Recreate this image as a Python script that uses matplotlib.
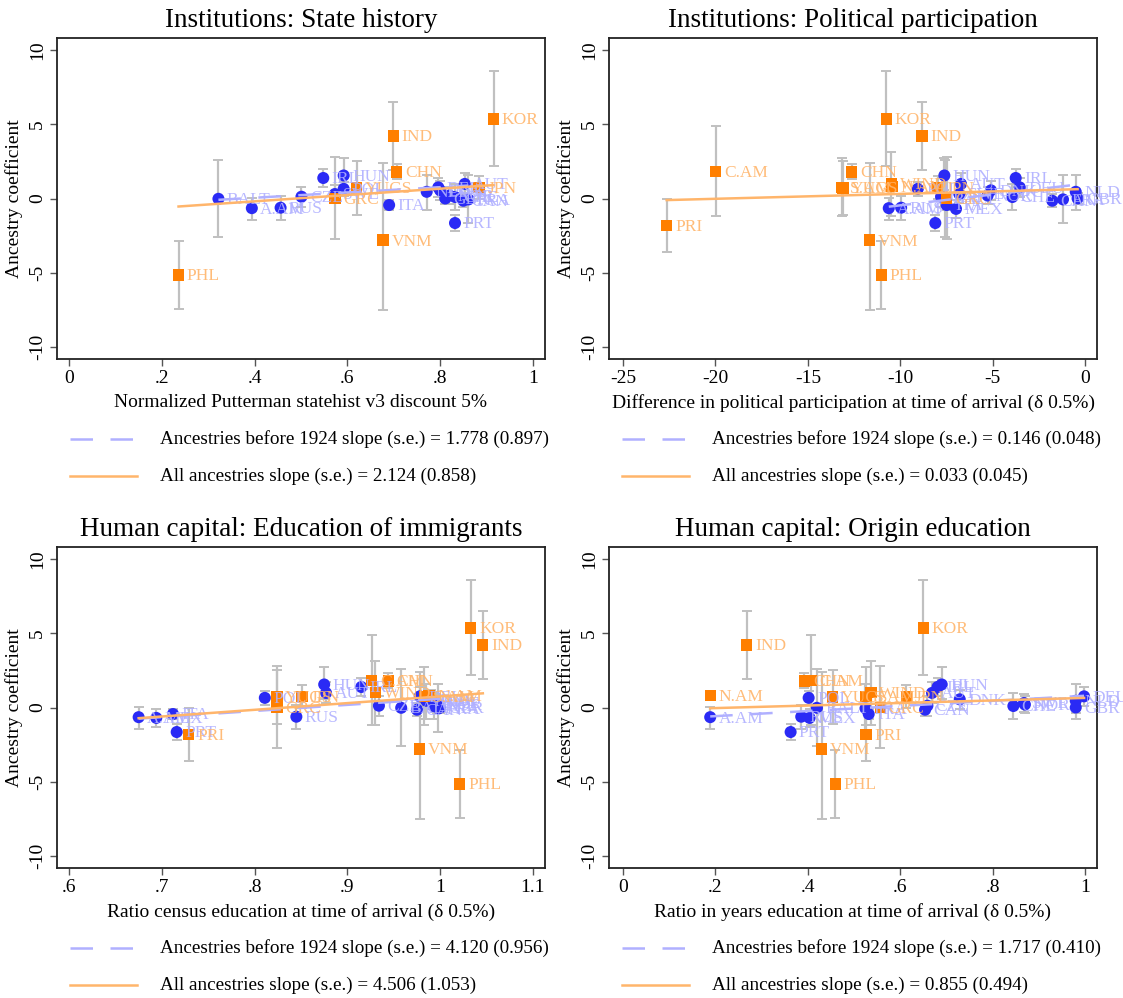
import numpy as np
import matplotlib
matplotlib.use("Agg")
import matplotlib.pyplot as plt
from matplotlib.lines import Line2D

plt.rcParams["font.family"] = ["Liberation Serif", "DejaVu Serif"]

# ancestries arriving before 1924 (blue)
pre_names = ["A.AM", "MEX", "ITA", "PRT", "RUS", "BALT", "POL", "CZE", "HUN", "AUT",
             "IRL", "DEU", "NLD", "DNK", "SWE", "NOR", "CHE", "GBR", "FRA", "CAN"]
pre_coef = [-0.65, -0.70, -0.44, -1.65, -0.62, -0.02, 0.65, 0.12, 1.55, 0.98,
            1.38, 0.75, 0.45, 0.55, 0.30, 0.20, 0.10, 0.00, -0.06, -0.15]
pre_lo = [-1.45, -1.30, -0.80, -2.20, -1.45, -2.60, 0.20, -0.60, 0.55, 0.30,
          0.80, 0.10, -0.75, -0.10, -0.30, -0.40, -0.80, -0.40, -1.65, -0.60]
pre_hi = [0.05, -0.10, -0.10, -1.10, 0.17, 2.60, 1.10, 0.80, 2.70, 1.70,
          2.00, 1.40, 1.60, 1.20, 0.90, 0.80, 1.00, 0.40, 1.60, 0.30]

# later ancestries (orange)
post_names = ["KOR", "IND", "C.AM", "CHN", "WIND", "N.AM", "JPN", "YUGS", "S.AM",
              "GRC", "PRI", "VNM", "PHL"]
post_coef = [5.35, 4.20, 1.82, 1.78, 1.00, 0.82, 0.75, 0.70, 0.72, 0.00, -1.83, -2.80, -5.15]
post_lo = [2.20, 1.90, -1.20, 1.30, -1.15, 0.60, 0.00, -1.10, -1.15, -2.70, -3.60, -7.50, -7.45]
post_hi = [8.55, 6.50, 4.85, 2.30, 3.10, 1.05, 1.50, 2.50, 2.70, 2.80, -0.05, 2.40, -2.85]

nan = np.nan
# x values per panel, same order as names
statehist_pre = [0.394, nan, 0.690, 0.832, 0.456, 0.322, 0.592, 0.501, 0.592, 0.853,
                 0.548, 0.796, 0.771, 0.800, 0.573, 0.820, 0.832, 0.811, 0.861, 0.850]
statehist_post = [0.915, 0.699, nan, 0.706, nan, nan, 0.884, 0.620, nan, 0.573, nan, 0.677, 0.236]

polpart_pre = [-10.62, -6.98, -7.49, -8.10, -9.95, -7.60, -9.05, -7.79, -7.61, -6.71,
               -3.75, -3.53, -0.50, -5.09, -6.80, -5.27, -3.93, -0.40, -1.19, -1.77]
polpart_post = [-10.76, -8.82, -19.98, -12.62, -10.49, -10.45, -7.97, -13.10, -13.16,
                -7.49, -22.64, -11.66, -11.03]

census_pre = [0.675, 0.694, 0.712, 0.716, 0.845, 0.958, 0.811, 0.934, 0.875, 0.877,
              0.915, 0.978, 0.985, 0.990, 0.995, 0.997, 0.993, 1.000, 0.998, 0.975]
census_post = [1.033, 1.046, 0.926, 0.944, 0.930, 0.988, 0.851, 0.824, 0.983, 0.824,
               0.729, 0.978, 1.021]

years_pre = [0.189, 0.404, 0.532, 0.363, 0.386, 0.420, 0.402, 0.659, 0.690, 0.669,
             0.681, 0.998, 0.980, 0.729, 0.868, 0.870, 0.845, 0.980, 0.525, 0.654]
years_post = [0.650, 0.268, 0.408, 0.393, 0.537, 0.189, 0.613, 0.454, 0.526, 0.557,
              0.526, 0.430, 0.460]

titles = ["Institutions: State history", "Institutions: Political participation",
          "Human capital: Education of immigrants", "Human capital: Origin education"]
xlabels = ["Normalized Putterman statehist v3 discount 5%",
           "Difference in political participation at time of arrival (\u03b4 0.5%)",
           "Ratio census education at time of arrival (\u03b4 0.5%)",
           "Ratio in years education at time of arrival (\u03b4 0.5%)"]
xticks = [[0, 0.2, 0.4, 0.6, 0.8, 1], [-25, -20, -15, -10, -5, 0],
          [0.6, 0.7, 0.8, 0.9, 1, 1.1], [0, 0.2, 0.4, 0.6, 0.8, 1]]
xticklabels = [["0", ".2", ".4", ".6", ".8", "1"], ["-25", "-20", "-15", "-10", "-5", "0"],
               [".6", ".7", ".8", ".9", "1", "1.1"], ["0", ".2", ".4", ".6", ".8", "1"]]
xlims = [(-0.026, 1.026), (-25.76, 0.65), (0.587, 1.113), (-0.03, 1.026)]
yticks = [-10, -5, 0, 5, 10]

slope_pre = [1.778, 0.146, 4.120, 1.717]
se_pre = [0.897, 0.048, 0.956, 0.410]
icpt_pre = [-0.66, 1.00, -3.53, -0.925]
slope_all = [2.124, 0.033, 4.506, 0.855]
se_all = [0.858, 0.045, 1.053, 0.494]
icpt_all = [-1.04, 0.64, -3.76, -0.21]

BLUE = "#2a2af5"
BLUE_LT = "#b0b0ff"
ORANGE = "#ff7f00"
ORANGE_LT = "#ffb56b"
GRAY = "#c0c0c0"

W, H = 1123, 998
fig = plt.figure(figsize=(W / 100, H / 100), dpi=100)

panels = [
    (statehist_pre, statehist_post),
    (polpart_pre, polpart_post),
    (census_pre, census_post),
    (years_pre, years_post),
]
# axes boxes in pixels: left, top
boxes = [(57, 38), (609, 38), (57, 547), (609, 547)]
bw, bh = 488, 321

for i, (xpre, xpost) in enumerate(panels):
    left, top = boxes[i]
    ax = fig.add_axes([left / W, 1 - (top + bh) / H, bw / W, bh / H])
    xpre = np.array(xpre, dtype=float)
    xpost = np.array(xpost, dtype=float)

    for xs, c, lo, hi in ((xpre, pre_coef, pre_lo, pre_hi), (xpost, post_coef, post_lo, post_hi)):
        c, lo, hi = map(np.array, (c, lo, hi))
        m = ~np.isnan(xs)
        ax.errorbar(xs[m], c[m], yerr=[c[m] - lo[m], hi[m] - c[m]], fmt="none",
                    ecolor=GRAY, elinewidth=1.6, capsize=3.5, capthick=1.4, zorder=1)

    m = ~np.isnan(xpre)
    ax.scatter(xpre[m], np.array(pre_coef)[m], s=75, color=BLUE, marker="o",
               edgecolors="none", zorder=3)
    m2 = ~np.isnan(xpost)
    ax.scatter(xpost[m2], np.array(post_coef)[m2], s=66, color=ORANGE, marker="s",
               edgecolors="none", zorder=3)

    for n, x, y in zip(pre_names, xpre, pre_coef):
        if not np.isnan(x):
            ax.annotate(n, (x, y), xytext=(6, -1), textcoords="offset points",
                        va="center", ha="left", fontsize=12.5, color=BLUE_LT, alpha=0.9, zorder=4)
    for n, x, y in zip(post_names, xpost, post_coef):
        if not np.isnan(x):
            ax.annotate(n, (x, y), xytext=(6, -1), textcoords="offset points",
                        va="center", ha="left", fontsize=12.5, color=ORANGE_LT, alpha=0.9, zorder=4)

    # fitted lines
    xb = np.array([np.nanmin(xpre), np.nanmax(xpre)])
    ax.plot(xb, icpt_pre[i] + slope_pre[i] * xb, color=BLUE_LT, lw=1.8,
            dashes=(9, 7), zorder=5)
    allx = np.concatenate([xpre[m], xpost[m2]])
    xa = np.array([allx.min(), allx.max()])
    ax.plot(xa, icpt_all[i] + slope_all[i] * xa, color=ORANGE_LT, lw=1.8, zorder=5)

    ax.set_xlim(*xlims[i])
    ax.set_ylim(-10.8, 10.8)
    ax.set_xticks(xticks[i])
    ax.set_xticklabels(xticklabels[i], fontsize=14)
    ax.set_yticks(yticks)
    ax.set_yticklabels([str(t) for t in yticks], fontsize=14, rotation=90, va="center")
    ax.tick_params(direction="out", length=5, width=1, color="#555555", pad=3)
    for s in ax.spines.values():
        s.set_linewidth(1.3)
        s.set_color("#222222")
    ax.set_xlabel(xlabels[i], fontsize=14, labelpad=5)
    ax.set_ylabel("Ancestry coefficient", fontsize=14, labelpad=4)
    ax.set_title(titles[i], fontsize=19.5, pad=8)

    # legend below panel
    ly1 = top + bh + 80
    ly2 = top + bh + 117
    fig.add_artist(Line2D([(left + 13) / W, (left + 80) / W], [1 - ly1 / H] * 2,
                          color=BLUE_LT, lw=1.8, dashes=(9, 7)))
    fig.add_artist(Line2D([(left + 13) / W, (left + 80) / W], [1 - ly2 / H] * 2,
                          color=ORANGE_LT, lw=1.8))
    fig.text((left + 103) / W, 1 - ly1 / H,
             f"Ancestries before 1924 slope (s.e.) = {slope_pre[i]:.3f} ({se_pre[i]:.3f})",
             fontsize=13.8, va="center", ha="left")
    fig.text((left + 103) / W, 1 - ly2 / H,
             f"All ancestries slope (s.e.) = {slope_all[i]:.3f} ({se_all[i]:.3f})",
             fontsize=13.8, va="center", ha="left")

fig.savefig("out.png", dpi=100)
